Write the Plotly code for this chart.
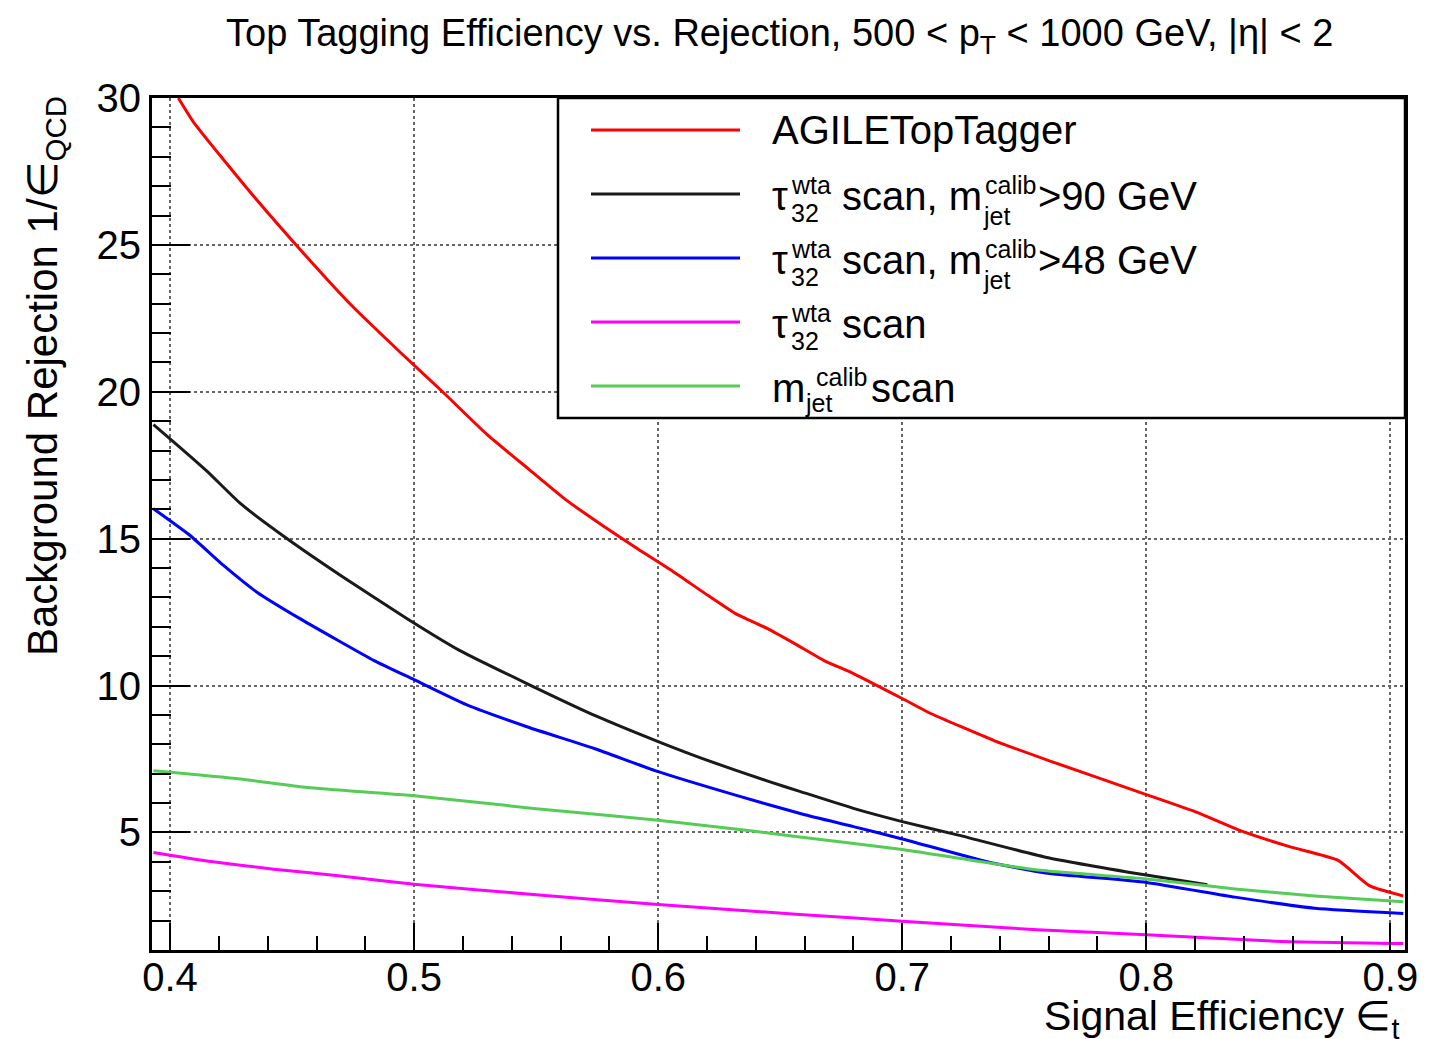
import plotly.graph_objects as go

# ---------------- data ----------------
eff_agile = [0.4034, 0.4096, 0.4322, 0.4541, 0.474, 0.4945, 0.5123, 0.5297, 0.5469, 0.5621,
             0.5772, 0.5917, 0.6055, 0.6193, 0.6317, 0.6448, 0.6572, 0.668, 0.68, 0.7,
             0.7117, 0.7376, 0.7603, 0.8, 0.82, 0.838, 0.859, 0.8786, 0.8916, 0.9053]
rej_agile = [30.0, 29.18, 26.86, 24.77, 22.97, 21.33, 19.95, 18.56, 17.37, 16.33,
             15.45, 14.65, 13.92, 13.13, 12.45, 11.94, 11.37, 10.85, 10.41, 9.56,
             9.05, 8.13, 7.44, 6.29, 5.71, 5.08, 4.51, 4.05, 3.18, 2.84]

eff_tau_m90 = [0.3932, 0.4, 0.4151, 0.4288, 0.448, 0.4699, 0.4973, 0.5186, 0.5462, 0.5752,
               0.6, 0.6179, 0.6455, 0.658, 0.68, 0.7, 0.723, 0.7587, 0.8, 0.825]
rej_tau_m90 = [18.88, 18.4, 17.3, 16.2, 15.0, 13.75, 12.27, 11.2, 10.07, 8.94,
               8.09, 7.52, 6.73, 6.40, 5.82, 5.37, 4.91, 4.16, 3.55, 3.22]

eff_tau_m48 = [0.3932, 0.4082, 0.4219, 0.4356, 0.4534, 0.4836, 0.5, 0.5214, 0.5462, 0.5738,
               0.6, 0.6317, 0.6593, 0.68, 0.7, 0.736, 0.7587, 0.8, 0.8363, 0.869, 0.9053]
rej_tau_m48 = [16.02, 15.11, 14.09, 13.18, 12.27, 10.85, 10.2, 9.35, 8.6, 7.86,
               7.07, 6.27, 5.62, 5.2, 4.78, 3.98, 3.62, 3.3, 2.8, 2.42, 2.24]

eff_tau = [0.3932, 0.4151, 0.4425, 0.4699, 0.5, 0.55, 0.6, 0.658, 0.7, 0.7554, 0.8, 0.8527, 0.9053]
rej_tau = [4.32, 4.03, 3.75, 3.52, 3.24, 2.88, 2.55, 2.21, 1.98, 1.69, 1.52, 1.30, 1.22]

eff_mass = [0.3932, 0.4288, 0.4562, 0.5, 0.549, 0.6, 0.6386, 0.658, 0.7, 0.7554, 0.8, 0.8363, 0.869, 0.9053]
rej_mass = [7.1, 6.82, 6.53, 6.25, 5.82, 5.42, 5.05, 4.85, 4.42, 3.72, 3.42, 3.08, 2.84, 2.64]

x_ticks = [0.4, 0.5, 0.6, 0.7, 0.8, 0.9]
x_ticklabels = ["0.4", "0.5", "0.6", "0.7", "0.8", "0.9"]
y_ticks = [5, 10, 15, 20, 25, 30]
y_ticklabels = ["5", "10", "15", "20", "25", "30"]

series = [
    ("AGILETopTagger", eff_agile, rej_agile, "#ff0000"),
    ("tau32 scan, mjet>90 GeV", eff_tau_m90, rej_tau_m90, "#1a1a1a"),
    ("tau32 scan, mjet>48 GeV", eff_tau_m48, rej_tau_m48, "#0000ff"),
    ("tau32 scan", eff_tau, rej_tau, "#ff00ff"),
    ("mjet scan", eff_mass, rej_mass, "#55cc55"),
]

FONT = "Liberation Sans, Arial, Helvetica, sans-serif"
W, H = 1438, 1039
ML, MR, MT, MB = 152, 33, 98, 89
PW, PH = W - ML - MR, H - MT - MB


def px(xp):
    return (xp - ML) / PW


def py(yp):
    return 1 - (yp - MT) / PH


fig = go.Figure()
for name, xs, ys, col in series:
    fig.add_trace(go.Scatter(x=xs, y=ys, mode="lines", name=name,
                             line=dict(color=col, width=3, shape="spline", smoothing=0.5),
                             showlegend=False))

fig.update_layout(
    width=W, height=H,
    margin=dict(l=ML, r=MR, t=MT, b=MB, pad=0),
    paper_bgcolor="white", plot_bgcolor="white",
    font=dict(family=FONT, color="black", size=40),
    showlegend=False,
)

fig.update_xaxes(
    range=[0.3926, 0.906],
    tickmode="array", tickvals=x_ticks, ticktext=x_ticklabels,
    ticks="inside", ticklen=27, tickwidth=2, tickcolor="black",
    ticklabelstandoff=-10,
    minor=dict(tickmode="linear", tick0=0.4, dtick=0.02, ticks="inside", ticklen=14,
               tickwidth=2, tickcolor="black", showgrid=False),
    showline=True, linewidth=3, linecolor="black", mirror=True,
    showgrid=True, gridcolor="#666666", gridwidth=2, griddash="dot",
    zeroline=False, tickfont=dict(size=40, family=FONT),
)
fig.update_yaxes(
    range=[1, 30],
    tickmode="array", tickvals=y_ticks, ticktext=y_ticklabels,
    ticks="inside", ticklen=38, tickwidth=2, tickcolor="black",
    minor=dict(tickmode="linear", tick0=0, dtick=1, ticks="inside", ticklen=19,
               tickwidth=2, tickcolor="black", showgrid=False),
    showline=True, linewidth=3, linecolor="black", mirror=True,
    showgrid=True, gridcolor="#666666", gridwidth=2, griddash="dot",
    zeroline=False, tickfont=dict(size=40, family=FONT),
)

ann = []


def text(t, xp, yp, size=40, xanchor="left", yanchor="middle", angle=0):
    ann.append(dict(text=t, x=px(xp), y=py(yp), xref="paper", yref="paper",
                    xanchor=xanchor, yanchor=yanchor, showarrow=False, textangle=angle,
                    font=dict(size=size, family=FONT, color="black")))


# title and axis titles
text("Top Tagging Efficiency vs. Rejection, 500 &lt; p<sub>T</sub> &lt; 1000 GeV, |η| &lt; 2",
     779, 36, size=38, xanchor="center")
text("Background Rejection 1/∈<sub>QCD</sub>", 46, 376, size=42, xanchor="center", angle=-90)
text("Signal Efficiency ∈<sub>t</sub>", 1401, 1019, size=41, xanchor="right")

# legend (box, line samples, labels)
shapes = [dict(type="rect", xref="paper", yref="paper", x0=px(558), x1=px(1405),
               y0=py(418), y1=py(98), fillcolor="white", line=dict(color="black", width=2.5),
               layer="above")]
rows_y = [130, 194, 258, 322, 386]
for (name, xs, ys, col), ry in zip(series, rows_y):
    shapes.append(dict(type="line", xref="paper", yref="paper", x0=px(591), x1=px(740),
                       y0=py(ry), y1=py(ry), line=dict(color=col, width=3), layer="above"))

SUP, SUB = 25, 25
text("AGILETopTagger", 770, rows_y[0])
for ry, cut in [(rows_y[1], "&gt;90 GeV"), (rows_y[2], "&gt;48 GeV")]:
    text("τ", 770, ry + 2)
    text("wta", 789, ry - 9, size=SUP)
    text("32", 789, ry + 19, size=SUB)
    text("scan, m", 840, ry + 2)
    text("calib", 983, ry - 9, size=SUP)
    text("jet", 981, ry + 22, size=SUB)
    text(cut, 1036, ry + 2)
ry = rows_y[3]
text("τ", 770, ry + 2)
text("wta", 789, ry - 9, size=SUP)
text("32", 789, ry + 19, size=SUB)
text("scan", 840, ry + 2)
ry = rows_y[4]
text("m", 770, ry + 2)
text("calib", 814, ry - 9, size=SUP)
text("jet", 803, ry + 17, size=SUB)
text("scan", 869, ry + 2)

fig.update_layout(annotations=ann, shapes=shapes)
fig.write_html("out.html")
